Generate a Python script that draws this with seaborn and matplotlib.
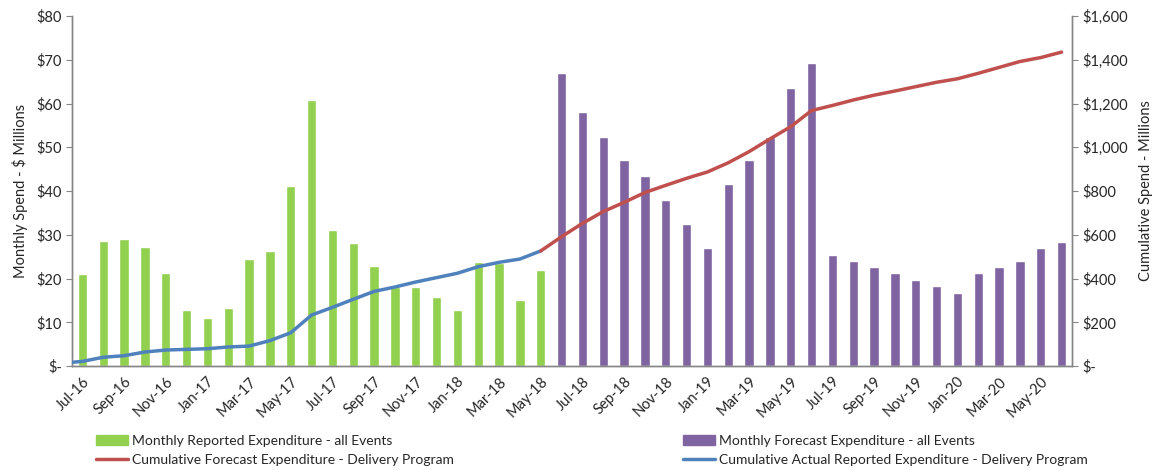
import numpy as np
import pandas as pd
import matplotlib
matplotlib.use("Agg")
import matplotlib.pyplot as plt
from matplotlib.patches import Patch
from matplotlib.lines import Line2D
from matplotlib.ticker import FuncFormatter, MultipleLocator, FixedLocator
import seaborn as sns

# months Jul-16 .. Jun-20
months = list(pd.date_range("2016-07-01", periods=48, freq="MS").strftime("%b-%y"))

# monthly spend ($M)
reported = [21.0, 28.5, 29.1, 27.3, 21.2, 12.8, 11.0, 13.3, 24.4, 26.3, 41.1, 60.9,
            31.0, 28.2, 22.8, 18.0, 18.1, 15.7, 12.8, 23.8, 23.5, 15.1, 21.9]
forecast = [66.9, 58.0, 52.4, 47.1, 43.5, 37.9, 32.5, 27.0, 41.6, 47.1, 52.4, 63.6,
            69.2, 25.4, 24.1, 22.6, 21.2, 19.7, 18.2, 16.7, 21.2, 22.6, 24.1, 26.9, 28.3]

# cumulative spend ($M)
cum_opening = 17
cum_actual = [21, 40, 47, 64, 73, 76, 79, 87, 91, 116, 152, 233, 268, 305, 341, 361,
              384, 404, 424, 454, 474, 489, 526]
cum_forecast = [526, 591, 652, 706, 748, 793, 826, 858, 887, 929, 980, 1038, 1094,
                1168, 1191, 1216, 1238, 1257, 1277, 1297, 1313, 1338, 1365, 1392, 1410, 1435]

GREEN = "#92D050"
PURPLE = "#8064A2"
RED = "#C0504D"
BLUE = "#4F81BD"
GREY = "#868686"

sns.set_style("white")
plt.rcParams["font.family"] = ["Lato", "DejaVu Sans"]

df = pd.DataFrame({
    "month": months,
    "spend": reported + forecast,
    "kind": ["Reported"] * len(reported) + ["Forecast"] * len(forecast),
})

fig = plt.figure(figsize=(11.63, 4.70), dpi=100)
ax = fig.add_axes([72 / 1163, 104 / 470, 1000 / 1163, 350 / 470])

sns.barplot(data=df, x="month", y="spend", hue="kind", dodge=False, width=0.45,
            palette={"Reported": GREEN, "Forecast": PURPLE}, legend=False,
            saturation=1, ax=ax)
ax.set_xlim(-0.5, len(months) - 0.5)
ax.set_ylim(0, 80)
ax.yaxis.set_major_locator(MultipleLocator(10))
ax.yaxis.set_major_formatter(FuncFormatter(lambda v, p: "$-" if v == 0 else f"${v:,.0f}"))
ax.set_xlabel("")
ax.set_ylabel("Monthly Spend - $ Millions", fontsize=10.5, labelpad=6)

# labels every other month at the category centre, tick marks on boundaries
lab_pos = list(range(0, len(months), 2))
ax.xaxis.set_major_locator(FixedLocator(lab_pos))
ax.set_xticklabels([months[i] for i in lab_pos], rotation=45, ha="right",
                   rotation_mode="anchor", fontsize=10.5)
ax.xaxis.set_minor_locator(FixedLocator([i - 0.5 for i in lab_pos] + [len(months) - 0.5]))
ax.tick_params(axis="x", which="major", length=0, pad=6)
ax.tick_params(axis="x", which="minor", length=5, color=GREY, width=1, direction="out")
ax.tick_params(axis="y", length=4, color=GREY, labelsize=10.5, direction="out", left=True)

ax2 = ax.twinx()
sns.lineplot(x=[-0.5] + list(range(len(cum_actual))), y=[cum_opening] + cum_actual,
             ax=ax2, color=BLUE, lw=2.5, zorder=3)
sns.lineplot(x=list(range(len(cum_actual) - 1, len(months))), y=cum_forecast,
             ax=ax2, color=RED, lw=2.5, zorder=4)
ax2.set_ylim(0, 1600)
ax2.yaxis.set_major_locator(MultipleLocator(200))
ax2.yaxis.set_major_formatter(FuncFormatter(lambda v, p: "$-" if v == 0 else f"${v:,.0f}"))
ax2.set_ylabel("Cumulative Spend - Millions", fontsize=10.5, labelpad=8)
ax2.tick_params(axis="y", length=4, color=GREY, labelsize=10.5, direction="out", right=True)

for a in (ax, ax2):
    a.spines["top"].set_visible(False)
    for s in ("left", "right", "bottom"):
        a.spines[s].set_color(GREY)
        a.spines[s].set_linewidth(1)
    a.grid(False)

leg_kw = dict(frameon=False, fontsize=10, handlelength=2.3, handletextpad=0.3,
              labelspacing=0.5, loc="upper left", borderaxespad=0, borderpad=0)
fig.legend(handles=[Patch(color=GREEN, label="Monthly Reported Expenditure - all Events"),
                    Line2D([], [], color=RED, lw=2.5,
                           label="Cumulative Forecast Expenditure - Delivery Program")],
           bbox_to_anchor=(96 / 1163, 1 - 435 / 470), **leg_kw)
fig.legend(handles=[Patch(color=PURPLE, label="Monthly Forecast Expenditure - all Events"),
                    Line2D([], [], color=BLUE, lw=2.5,
                           label="Cumulative Actual Reported Expenditure - Delivery Program")],
           bbox_to_anchor=(683 / 1163, 1 - 435 / 470), **leg_kw)

fig.savefig("out.png", dpi=100)
